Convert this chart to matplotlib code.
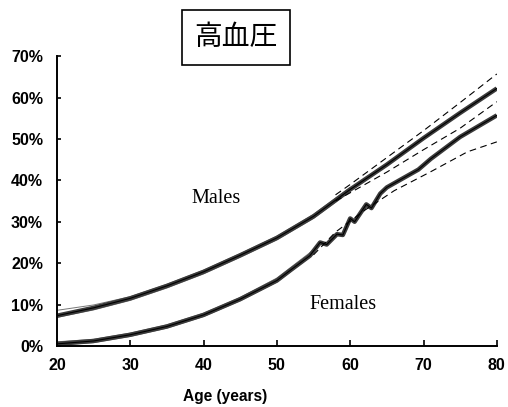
import numpy as np
import matplotlib
matplotlib.use('Agg')
import matplotlib.pyplot as plt

# Hypertension prevalence by age
age_m = [20, 25, 30, 35, 40, 45, 50, 55, 60, 65, 70, 75, 80]
male = [7.3, 9.2, 11.5, 14.5, 17.9, 21.9, 26.1, 31.3, 37.8, 43.8, 50.2, 56.3, 62.2]

age_band = [20, 25, 30, 35, 40, 45, 50, 55, 60]
male_hi = [8.6, 9.9, 11.9, 14.9, 18.3, 22.3, 26.5, 31.8, 38.3]
male_lo = [6.9, 8.7, 11.0, 14.0, 17.4, 21.4, 25.6, 30.8, 37.3]

age_f = [20, 25, 30, 35, 40, 45, 50, 52, 54.5, 55.9, 56.8, 58.2, 59.0, 60.0, 60.6,
         62.2, 62.9, 64.1, 65.0, 66.3, 67.7, 69.3, 71.0, 75.0, 80.0]
female = [0.5, 1.2, 2.7, 4.7, 7.5, 11.3, 15.8, 18.5, 21.8, 25.0, 24.5, 27.0, 26.8, 30.8, 30.0,
          34.2, 33.3, 36.8, 38.3, 39.6, 41.0, 42.6, 45.2, 50.5, 55.7]

age_fb = [20, 25, 30, 35, 40, 45, 50, 55]
female_hi = [1.0, 1.6, 3.1, 5.1, 7.9, 11.7, 16.4, 23.2]
female_lo = [0.2, 0.8, 2.3, 4.3, 7.1, 10.9, 15.4, 22.2]

# confidence limits (dashed)
age_mu = [58, 60, 65, 70, 75, 80]
male_upper = [36.5, 39.0, 45.5, 52.0, 58.8, 65.7]
age_ml = [58, 60, 65, 70, 75, 80]
male_lower = [35.0, 37.0, 42.0, 47.4, 52.6, 59.0]
age_fl = [55, 58, 62, 66, 71, 76, 80]
female_lower = [22.0, 27.5, 32.8, 37.5, 42.1, 46.9, 49.3]

fig = plt.figure(figsize=(5.08, 4.07), dpi=100)
ax = fig.add_axes([0.112, 0.150, 0.866, 0.712])

for a, v in [(age_band, male_hi), (age_band, male_lo), (age_fb, female_hi), (age_fb, female_lo)]:
    ax.plot(a, v, color='#777777', lw=0.7)

ax.plot(age_m, male, color='#3a3a3a', lw=3.2, solid_capstyle='butt')
ax.plot(age_m, male, color='black', lw=0.8)
ax.plot(age_f, female, color='#3a3a3a', lw=3.2, solid_capstyle='butt')
ax.plot(age_f, female, color='black', lw=0.8)

for a, v in [(age_mu, male_upper), (age_ml, male_lower), (age_fl, female_lower)]:
    ax.plot(a, v, color='black', lw=0.8, ls=(0, (6, 4)))

ax.set_xlim(20, 80)
ax.set_ylim(0, 70)
ax.set_xticks(range(20, 81, 10))
ax.set_yticks(range(0, 71, 10))
ax.set_yticklabels([f'{v}%' for v in range(0, 71, 10)])
ax.spines['top'].set_visible(False)
ax.spines['right'].set_visible(False)
for s in ['left', 'bottom']:
    ax.spines[s].set_linewidth(1.4)
ax.tick_params(axis='x', direction='in', length=4, width=1.2, pad=9)
ax.tick_params(axis='y', direction='in', length=3, width=1.2, pad=10)
for lab in ax.get_xticklabels() + ax.get_yticklabels():
    lab.set_fontfamily('Liberation Sans')
    lab.set_fontweight('bold')
    lab.set_fontsize(11.5)

fig.text(225 / 508, 1 - 397 / 407, 'Age (years)', ha='center', va='center',
         family='Liberation Sans', fontweight='bold', fontsize=11.2)

ax.text(41.7, 35.7, 'Males', ha='center', va='center', family='Liberation Serif', fontsize=14.5)
ax.text(59.0, 10.1, 'Females', ha='center', va='center', family='Liberation Serif', fontsize=14.5)

fig.text(236 / 508, 1 - 37 / 407, '高血圧', ha='center', va='center',
         family=['Noto Sans CJK JP', 'DejaVu Sans'], fontsize=20,
         bbox=dict(boxstyle='square,pad=0.45', fc='white', ec='black', lw=1.2))

fig.savefig('out.png', dpi=100)
